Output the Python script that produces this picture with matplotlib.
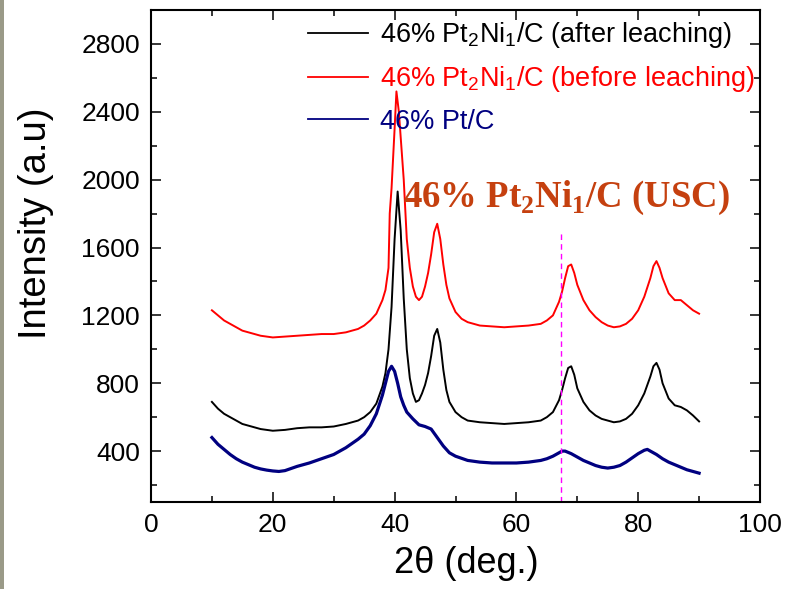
import matplotlib
matplotlib.use("Agg")
import matplotlib.pyplot as plt
from matplotlib.patches import Rectangle
from matplotlib.ticker import MultipleLocator

plt.rcParams['font.family'] = ['Liberation Sans', 'DejaVu Sans']
plt.rcParams['mathtext.fontset'] = 'custom'
plt.rcParams['mathtext.rm'] = 'Liberation Sans'

# ---- data ----
x_before = [10, 11, 12, 13, 14, 15, 16, 17, 18, 19, 20, 22, 24, 26, 28, 30, 32, 34, 35, 36, 37, 38,
            38.5, 39, 39.2, 39.5, 40, 40.3, 40.7, 41, 41.5, 42, 42.5, 43, 43.5, 44, 44.5, 45, 45.5,
            46, 46.5, 47, 47.5, 48, 48.5, 49, 50, 51, 52, 54, 56, 58, 60, 62, 64, 65, 66, 67, 67.5,
            68, 68.5, 69, 69.5, 70, 71, 72, 73, 74, 75, 76, 77, 78, 79, 80, 81, 82, 82.5, 83, 83.5,
            84, 85, 86, 87, 88, 89, 90]
y_before = [1230, 1200, 1170, 1150, 1130, 1110, 1100, 1090, 1080, 1075, 1070, 1075, 1080, 1085, 1090,
            1090, 1100, 1120, 1140, 1170, 1210, 1290, 1350, 1480, 1800, 1950, 2300, 2520, 2400, 2250,
            2000, 1650, 1480, 1370, 1310, 1290, 1310, 1370, 1450, 1560, 1690, 1740, 1650, 1500, 1380,
            1300, 1220, 1180, 1160, 1140, 1135, 1130, 1135, 1140, 1150, 1170, 1200, 1280, 1340, 1420,
            1490, 1500, 1450, 1380, 1290, 1230, 1190, 1160, 1140, 1130, 1135, 1150, 1180, 1230, 1310,
            1420, 1490, 1520, 1480, 1420, 1330, 1290, 1290, 1260, 1230, 1210]

x_after = [10, 11, 12, 13, 14, 15, 16, 17, 18, 19, 20, 22, 24, 26, 28, 30, 32, 34, 35, 36, 37, 38,
           38.5, 39, 39.5, 40, 40.5, 41, 41.5, 42, 42.5, 43, 43.5, 44, 44.5, 45, 45.5, 46, 46.5, 47,
           47.5, 48, 48.5, 49, 50, 51, 52, 54, 56, 58, 60, 62, 64, 65, 66, 67, 67.5, 68, 68.5, 69,
           69.5, 70, 71, 72, 73, 74, 75, 76, 77, 78, 79, 80, 81, 82, 82.5, 83, 83.5, 84, 85, 86, 87,
           88, 89, 90]
y_after = [690, 650, 620, 600, 580, 560, 550, 540, 530, 525, 520, 525, 535, 540, 540, 545, 560, 580,
           600, 630, 680, 780, 860, 1000, 1250, 1650, 1930, 1700, 1300, 1000, 830, 740, 690, 700, 740,
           790, 860, 960, 1080, 1120, 1040, 880, 760, 690, 630, 600, 580, 570, 565, 560, 565, 570, 580,
           600, 630, 700, 760, 830, 890, 900, 850, 770, 690, 640, 610, 590, 580, 570, 575, 590, 620,
           670, 740, 840, 900, 920, 880, 800, 710, 670, 660, 640, 610, 575]

x_ptc = [10, 11, 12, 13, 14, 15, 16, 17, 18, 19, 20, 21, 22, 24, 26, 28, 30, 32, 34, 35, 36, 37, 38,
         38.5, 39, 39.5, 40, 40.5, 41, 41.5, 42, 43, 44, 45, 46, 47, 48, 49, 50, 52, 54, 56, 58, 60,
         62, 64, 65, 66, 67, 67.5, 68, 69, 70, 71, 72, 73, 74, 75, 76, 77, 78, 79, 80, 81, 81.5, 82,
         83, 84, 85, 86, 87, 88, 89, 90]
y_ptc = [480, 440, 410, 380, 355, 335, 320, 305, 295, 288, 283, 280, 285, 310, 330, 355, 380, 420, 470,
         500, 550, 620, 730, 800, 870, 900, 870, 800, 720, 670, 630, 590, 555, 545, 530, 480, 430, 390,
         370, 345, 335, 330, 330, 330, 335, 345, 355, 370, 390, 400, 400, 385, 365, 345, 330, 315, 305,
         300, 305, 315, 335, 360, 385, 405, 410, 400, 380, 355, 335, 320, 305, 290, 280, 270]

series_labels = ['46% Pt$_{\\mathregular{2}}$Ni$_{\\mathregular{1}}$/C (after leaching)',
                 '46% Pt$_{\\mathregular{2}}$Ni$_{\\mathregular{1}}$/C (before leaching)',
                 '46% Pt/C']
series_colors = ['#000000', '#FF0000', '#000080']
ref_line_x = 67.4
ref_line_top = 1690
annot_text = '46% Pt$_{\\mathregular{2}}$Ni$_{\\mathregular{1}}$/C (USC)'

# ---- figure ----
fig = plt.figure(figsize=(7.86, 5.89), dpi=100)
ax = fig.add_axes([151 / 786, 1 - 502 / 589, 609 / 786, 492 / 589])

ax.plot(x_after, y_after, color=series_colors[0], lw=1.4, label=series_labels[0])
ax.plot(x_before, y_before, color=series_colors[1], lw=1.4, label=series_labels[1])
ax.plot(x_ptc, y_ptc, color=series_colors[2], lw=2.3, label=series_labels[2])

ax.plot([ref_line_x, ref_line_x], [100, ref_line_top], color='#FF00FF', lw=1.0,
        ls=(0, (4, 3)))

ax.text(41.4, 1890, annot_text, color='#C5400F', fontsize=26.5, fontweight='bold',
        family=['Liberation Serif', 'DejaVu Serif'], va='center', ha='left')

ax.set_xlim(0, 100)
ax.set_ylim(100, 3000)
ax.xaxis.set_major_locator(MultipleLocator(20))
ax.xaxis.set_minor_locator(MultipleLocator(10))
ax.set_yticks([400, 800, 1200, 1600, 2000, 2400, 2800])
ax.set_yticks([200, 600, 1000, 1400, 1800, 2200, 2600], minor=True)

ax.tick_params(which='both', direction='in', top=True, right=True, width=1.1)
ax.tick_params(which='major', length=7.5, labelsize=19, pad=8)
ax.tick_params(which='minor', length=4.5)
for sp in ax.spines.values():
    sp.set_linewidth(1.5)

ax.set_xlabel('2θ (deg.)', fontsize=26)
ax.set_ylabel('Intensity (a.u)', fontsize=27.5)
ax.xaxis.set_label_coords(0.518, -0.09)
ax.yaxis.set_label_coords(-0.16, 0.567)

leg = ax.legend(loc='upper right', bbox_to_anchor=(1.0, 0.99), frameon=False, fontsize=19.5,
                handlelength=2.2, handletextpad=0.45, labelspacing=0.52, borderaxespad=0.0,
                borderpad=0.2, labelcolor='linecolor')
for line in leg.get_lines():
    line.set_linewidth(1.3)

fig.patches.append(Rectangle((0, 0), 4 / 786, 1, transform=fig.transFigure,
                             facecolor='#9a9a88', edgecolor='none'))

fig.savefig('out.png', dpi=100)
